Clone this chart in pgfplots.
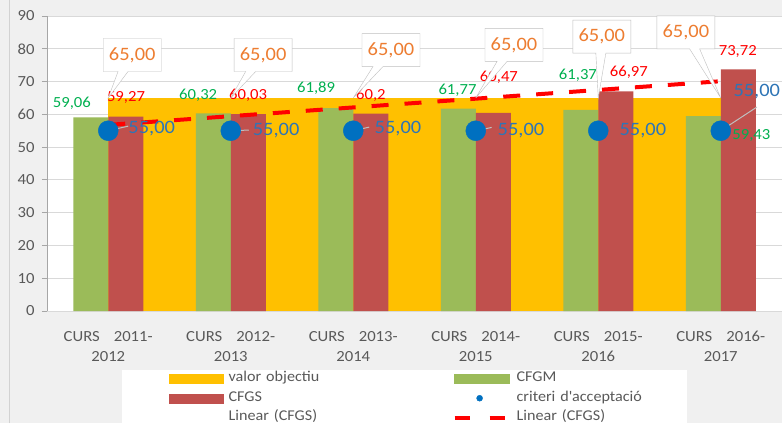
\documentclass[border=0pt]{standalone}
\usepackage{pgfplots}
\pgfplotsset{compat=1.18}
\usetikzlibrary{shapes.callouts}
\usepackage{fontspec}
\setmainfont{Carlito}[FakeStretch=1.08]

\definecolor{cYellow}{HTML}{FFC000}
\definecolor{cGreen}{HTML}{9BBB59}
\definecolor{cRed}{HTML}{C0504D}
\definecolor{cTrend}{HTML}{FF0000}
\definecolor{cDot}{HTML}{0070C0}
\definecolor{tGreen}{HTML}{00B050}
\definecolor{tRed}{HTML}{FF0000}
\definecolor{tOrange}{HTML}{ED7D31}
\definecolor{tBlue}{HTML}{2E75B6}
\definecolor{labgray}{HTML}{595959}
\definecolor{gridgray}{HTML}{D9D9D9}
\definecolor{axisgray}{HTML}{A6A6A6}
\definecolor{bg}{HTML}{F0F0F0}
\definecolor{boxgray}{HTML}{BFBFBF}

\newcommand{\fs}[1]{\fontsize{#1}{#1}\selectfont}

\begin{document}
\begin{tikzpicture}[x=1bp,y=1bp]
\useasboundingbox (0,0) rectangle (782,423);
\fill[bg] (0,0) rectangle (782,423);
\draw[gray!35] (9.5,0) -- (9.5,423);
\fill[white] (121.5,0) rectangle (687,53);

\begin{axis}[
 at={(47bp,112bp)}, anchor=south west,
 scale only axis, width=735bp, height=295bp,
 xmin=0.5, xmax=6.5, ymin=0, ymax=90,
 axis background/.style={fill=white},
 axis x line*=bottom, axis y line*=left,
 x axis line style={draw=gridgray, line width=1bp, -},
 y axis line style={draw=axisgray, line width=1bp, -},
 ytick={0,10,...,90},
 ymajorgrids, grid style={draw=gridgray, line width=1bp},
 xtick={1,...,6},
 xticklabels={CURS\hspace{14bp}2011-\\2012, CURS\hspace{14bp}2012-\\2013, CURS\hspace{14bp}2013-\\2014, CURS\hspace{14bp}2014-\\2015, CURS\hspace{14bp}2015-\\2016, CURS\hspace{14bp}2016-\\2017},
 xticklabel style={align=center, font=\fontsize{15.5}{20}\selectfont, text=labgray, yshift=-12bp},
 yticklabel style={font=\fs{15.5}, text=labgray, xshift=-4bp},
 xtick style={draw=none},
 ytick style={draw=axisgray, line width=1bp},
 tick align=outside, major tick length=5bp,
 /pgf/number format/assume math mode=true,
 clip=false,
 legend columns=2,
 legend cell align=left,
 legend style={at={(axis description cs:0.166,-0.1958)}, anchor=north west,
   draw=none, fill=none, inner sep=0pt, column sep=0pt, row sep=0pt,
   font=\fs{15}, text=labgray,
   nodes={text width=219bp, inner xsep=5bp, inner ysep=2.5bp, text height=10.5bp, text depth=4bp}},
]
% valor objectiu (area)
\addplot[fill=cYellow, draw=none, forget plot] coordinates {(1,65) (6,65)} \closedcycle;
% CFGM
\addplot[ybar, bar width=35bp, bar shift=-17.5bp, fill=cGreen, draw=none, forget plot]
 coordinates {(1,59.06) (2,60.32) (3,61.89) (4,61.77) (5,61.37) (6,59.43)};
% CFGS
\addplot[ybar, bar width=35bp, bar shift=17.5bp, fill=cRed, draw=none, forget plot]
 coordinates {(1,59.27) (2,60.03) (3,60.2) (4,60.47) (5,66.97) (6,73.72)};
% criteri d'acceptacio
\addplot[cDot, only marks, mark=*, mark size=10bp, forget plot]
 coordinates {(1,55) (2,55) (3,55) (4,55) (5,55) (6,55)};
% Linear (CFGS)
\addplot[cTrend, line width=4bp, dash pattern=on 17bp off 16bp, forget plot]
 coordinates {(1,56.78) (6,70.11)};

% leader lines
\draw[boxgray, line width=1bp] (axis cs:1,55) -- (axis cs:1.163,56.4);
\draw[boxgray, line width=1bp] (axis cs:2,55) -- (axis cs:2.147,55.2);
\draw[boxgray, line width=1bp] (axis cs:3,55) -- (axis cs:3.13,56.1);
\draw[boxgray, line width=1bp] (axis cs:4,55) -- (axis cs:4.13,56);
\draw[boxgray, line width=1bp] (axis cs:6,55) -- (axis cs:6.294,62.2);

% CFGM labels
\node[text=tGreen, font=\fs{15.5}] at (axis cs:0.703,63.45) {59,06};
\node[text=tGreen, font=\fs{15.5}] at (axis cs:1.734,65.9) {60,32};
\node[text=tGreen, font=\fs{15.5}] at (axis cs:2.697,68.0) {61,89};
\node[text=tGreen, font=\fs{15.5}] at (axis cs:3.851,67.4) {61,77};
\node[text=tGreen, font=\fs{15.5}] at (axis cs:4.834,72.0) {61,37};
\node[text=tGreen, font=\fs{15.5}] at (axis cs:6.250,53.7) {59,43};
% CFGS labels
\node[text=tRed, font=\fs{15.5}] at (axis cs:1.145,65.0) {59,27};
\node[text=tRed, font=\fs{15.5}] at (axis cs:2.142,65.9) {60,03};
\node[text=tRed, font=\fs{15.5}] at (axis cs:3.144,65.9) {60,2};
\node[text=tRed, font=\fs{15.5}] at (axis cs:4.189,71.4) {60,47};
\node[text=tRed, font=\fs{15.5}] at (axis cs:5.250,72.9) {66,97};
\node[text=tRed, font=\fs{15.5}] at (axis cs:6.139,79.3) {73,72};
% criteri labels
\node[text=tBlue, font=\fs{19}] at (axis cs:1.355,55.8) {55,00};
\node[text=tBlue, font=\fs{19}] at (axis cs:2.370,55.2) {55,00};
\node[text=tBlue, font=\fs{19}] at (axis cs:3.365,55.8) {55,00};
\node[text=tBlue, font=\fs{19}] at (axis cs:4.369,55.2) {55,00};
\node[text=tBlue, font=\fs{19}] at (axis cs:5.364,55.2) {55,00};
\node[text=tBlue, font=\fs{19}] at (axis cs:6.294,66.8) {55,00};
% valor objectiu callouts
\node[rectangle callout, fill=white, draw=boxgray, text=tOrange, font=\fs{19}, minimum width=58bp, minimum height=33bp, callout pointer width=10bp, callout absolute pointer={(axis cs:1,65)}] at (axis cs:1.196,78.1) {65,00};
\node[rectangle callout, fill=white, draw=boxgray, text=tOrange, font=\fs{19}, minimum width=58bp, minimum height=33bp, callout pointer width=10bp, callout absolute pointer={(axis cs:2,65)}] at (axis cs:2.264,78.1) {65,00};
\node[rectangle callout, fill=white, draw=boxgray, text=tOrange, font=\fs{19}, minimum width=58bp, minimum height=33bp, callout pointer width=10bp, callout absolute pointer={(axis cs:3,65)}] at (axis cs:3.308,79.6) {65,00};
\node[rectangle callout, fill=white, draw=boxgray, text=tOrange, font=\fs{19}, minimum width=58bp, minimum height=33bp, callout pointer width=10bp, callout absolute pointer={(axis cs:4,65)}] at (axis cs:4.312,81.2) {65,00};
\node[rectangle callout, fill=white, draw=boxgray, text=tOrange, font=\fs{19}, minimum width=58bp, minimum height=33bp, callout pointer width=10bp, callout absolute pointer={(axis cs:5,65)}] at (axis cs:5.029,83.7) {65,00};
\node[rectangle callout, fill=white, draw=boxgray, text=tOrange, font=\fs{19}, minimum width=58bp, minimum height=33bp, callout pointer width=10bp, callout absolute pointer={(axis cs:6,65)}] at (axis cs:5.715,85.0) {65,00};

% legend
\addlegendimage{legend image code/.code={\fill[cYellow] (0bp,-4.5bp) rectangle (54bp,4.5bp);}}
\addlegendentry{valor objectiu}
\addlegendimage{legend image code/.code={\fill[cGreen] (0bp,-4.5bp) rectangle (55bp,4.5bp);}}
\addlegendentry{CFGM}
\addlegendimage{legend image code/.code={\fill[cRed] (0bp,-4.5bp) rectangle (54bp,4.5bp);}}
\addlegendentry{CFGS}
\addlegendimage{legend image code/.code={\path[draw=none,fill=none] (0bp,-4.5bp) rectangle (55bp,4.5bp); \fill[cDot] (25bp,0bp) circle (3bp);}}
\addlegendentry{criteri d\textquotesingle acceptació}
\addlegendimage{legend image code/.code={\path[draw=none,fill=none] (0bp,-4.5bp) rectangle (54bp,4.5bp);}}
\addlegendentry{Linear (CFGS)}
\addlegendimage{legend image code/.code={\draw[cTrend, line width=4bp, dash pattern=on 15bp off 20bp] (0bp,0bp) -- (55bp,0bp);}}
\addlegendentry{Linear (CFGS)}
\end{axis}
\end{tikzpicture}
\end{document}
